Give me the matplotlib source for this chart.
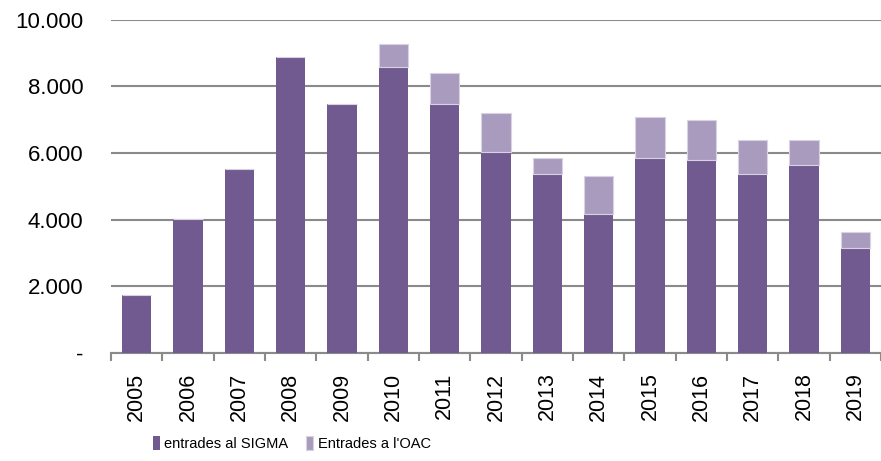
import matplotlib
matplotlib.use("Agg")
import matplotlib.pyplot as plt
from matplotlib.ticker import FuncFormatter, FixedLocator

plt.rcParams['font.family'] = ['Liberation Sans', 'DejaVu Sans']

years = ['2005', '2006', '2007', '2008', '2009', '2010', '2011', '2012',
         '2013', '2014', '2015', '2016', '2017', '2018', '2019']
sigma = [1740, 4020, 5530, 8880, 7480, 8570, 7470, 6020,
         5370, 4170, 5850, 5800, 5370, 5640, 3140]
oac = [0, 0, 0, 0, 0, 710, 930, 1190,
       490, 1140, 1240, 1190, 1020, 750, 490]

dark = '#715A8F'
light = '#A99BBE'

fig = plt.figure(figsize=(8.81, 4.61), dpi=100)
ax = fig.add_axes([0.126, 0.234, 0.874, 0.723])

x = list(range(len(years)))
w = 0.57
ax.bar(x, sigma, width=w, color=dark, label='entrades al SIGMA', zorder=3)
ax.bar(x, oac, width=w, bottom=sigma, color=light, edgecolor='#d9d2e3',
       linewidth=0.8, label="Entrades a l'OAC", zorder=3)

ax.set_xlim(-0.5, len(years) - 0.5)
ax.set_ylim(0, 10000)
ax.set_yticks(range(0, 10001, 2000))
ax.yaxis.set_major_formatter(FuncFormatter(
    lambda v, p: '-' if v == 0 else f'{int(v):,}'.replace(',', '.')))
ax.yaxis.grid(True, color='#8a8a8a', linewidth=1.5, zorder=0)
ax.set_axisbelow(True)
ax.tick_params(axis='y', length=0, pad=20, labelsize=16, colors='#000000')

ax.set_xticks(x)
ax.set_xticklabels(years, rotation=90, fontsize=15.5)
ax.tick_params(axis='x', which='major', length=0, pad=14)
ax.xaxis.set_minor_locator(FixedLocator([i - 0.5 for i in range(len(years) + 1)]))
ax.tick_params(axis='x', which='minor', length=6, width=1.5, color='#8a8a8a',
               direction='out')

for s in ['left', 'right', 'top']:
    ax.spines[s].set_visible(False)
ax.spines['bottom'].set_color('#8a8a8a')
ax.spines['bottom'].set_linewidth(1.5)

fig.legend(loc='center', bbox_to_anchor=(0.331, 0.037), ncol=2, frameon=False,
           fontsize=10.5, handlelength=0.5, handleheight=1.1, handletextpad=0.3,
           columnspacing=1.2)

fig.savefig('out.png', dpi=100)
